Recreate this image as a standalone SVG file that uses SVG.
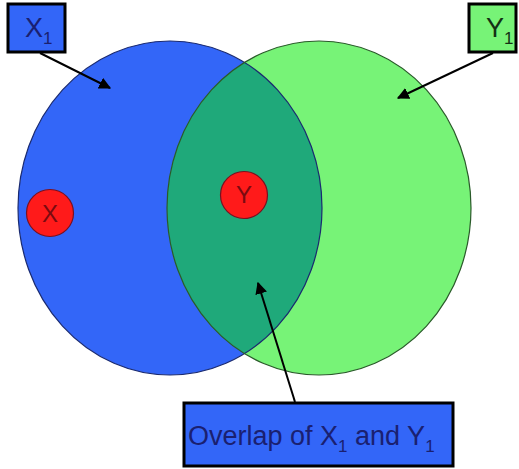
<svg xmlns="http://www.w3.org/2000/svg" width="519" height="469" viewBox="0 0 519 469">
  <style>
    .lbl { font-family: "Liberation Sans", Arial, sans-serif; }
    .conn { stroke: #000; stroke-width: 2; fill: none; marker-end: url(#arrow); }
    .outline { fill: none; stroke-width: 1.2; }
    .box { stroke: #000; stroke-width: 3; }
    .dot { fill: #ff1a1a; stroke: #7a1020; stroke-width: 1.2; }
  </style>
  <defs>
    <marker id="arrow" viewBox="0 0 10 10" refX="9" refY="5" markerWidth="6" markerHeight="6" markerUnits="strokeWidth" orient="auto">
      <path d="M0,0 L10,5 L0,10 Z" fill="#000"/>
    </marker>
    <clipPath id="clipBlue">
      <ellipse cx="170" cy="208" rx="152" ry="167"/>
    </clipPath>
  </defs>
  <rect width="519" height="469" fill="#fff"/>

  <g id="setX1">
    <ellipse cx="170" cy="208" rx="152" ry="167" fill="#3366f8"/>
  </g>
  <g id="setY1">
    <ellipse cx="319" cy="208" rx="152" ry="167" fill="#77f377"/>
  </g>
  <g id="overlap">
    <ellipse cx="319" cy="208" rx="152" ry="167" fill="#1fa97a" clip-path="url(#clipBlue)"/>
    <ellipse cx="170" cy="208" rx="152" ry="167" class="outline" stroke="#1a2a70"/>
    <ellipse cx="319" cy="208" rx="152" ry="167" class="outline" stroke="#2a5a2a"/>
  </g>

  <g id="pointX">
    <circle cx="50" cy="213" r="23.5" class="dot"/>
    <text x="50" y="222" text-anchor="middle" class="lbl" font-size="24" fill="#7a0a10">X</text>
  </g>
  <g id="pointY">
    <circle cx="244" cy="195" r="23.5" class="dot"/>
    <text x="244" y="203" text-anchor="middle" class="lbl" font-size="24" fill="#7a0a10">Y</text>
  </g>

  <g id="connectors">
    <line x1="40" y1="53" x2="110" y2="88" class="conn"/>
    <line x1="493" y1="53" x2="398" y2="98" class="conn"/>
    <line x1="295" y1="402" x2="258" y2="283" class="conn"/>
  </g>

  <g id="labelX1">
    <rect x="8" y="4" width="57" height="48" fill="#3366f8" class="box"/>
    <text x="25" y="37" class="lbl" font-size="27" fill="#1a2070">X<tspan font-size="17" dy="7">1</tspan></text>
  </g>
  <g id="labelY1">
    <rect x="469" y="4" width="47" height="48" fill="#77f377" class="box"/>
    <text x="486" y="37" class="lbl" font-size="27" fill="#143014">Y<tspan font-size="17" dy="7">1</tspan></text>
  </g>
  <g id="labelOverlap">
    <rect x="184" y="403" width="269" height="63" fill="#3366f8" class="box"/>
    <text x="188" y="445" class="lbl" font-size="27" fill="#1a2070">Overlap of X<tspan font-size="17" dy="7">1</tspan><tspan dy="-7"> and Y</tspan><tspan font-size="17" dy="7">1</tspan></text>
  </g>
</svg>
